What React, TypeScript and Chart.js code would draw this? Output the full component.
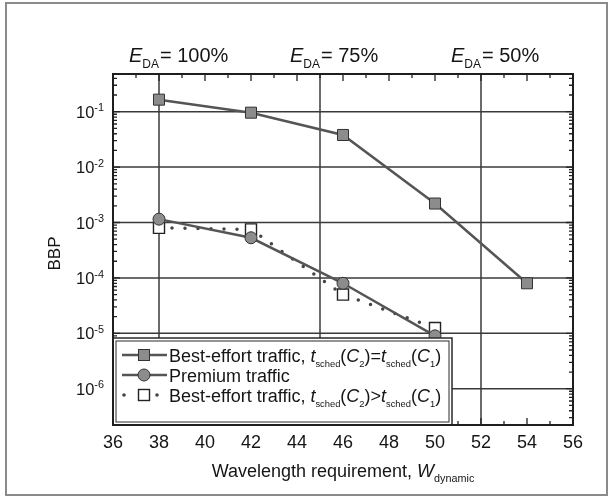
import React, { useEffect, useRef } from 'react';
import { Chart, registerables } from 'chart.js';

Chart.register(...registerables);

// ---- data ----
const bestEffortEqualX = [38, 42, 46, 50, 54];
const bestEffortEqualY = [0.165, 0.096, 0.038, 0.0022, 0.00008];
const premiumX = [38, 42, 46, 50];
const premiumY = [0.00115, 0.00053, 0.00008, 0.000009];
const bestEffortGreaterX = [38, 42, 46, 50];
const bestEffortGreaterY = [0.0008, 0.00075, 0.00005, 0.0000125];

const xTickLabels = [36, 38, 40, 42, 44, 46, 48, 50, 52, 54, 56];
const yTickExponents = [-1, -2, -3, -4, -5, -6];
const efficiencyX = [38, 45, 52];
const efficiencyLabels = ['100%', '75%', '50%'];
const xMin = 36;
const xMax = 56;
const yMinExp = -6.655;
const yMaxExp = -0.3195;

type Seg = { t: string; i?: boolean; sub?: boolean; sup?: boolean };

const legendLabels: Seg[][] = [
  [
    { t: 'Best-effort traffic, ' }, { t: 't', i: true }, { t: 'sched', sub: true }, { t: '(' },
    { t: 'C', i: true }, { t: '2', sub: true }, { t: ')=' }, { t: 't', i: true }, { t: 'sched', sub: true },
    { t: '(' }, { t: 'C', i: true }, { t: '1', sub: true }, { t: ')' },
  ],
  [{ t: 'Premium traffic' }],
  [
    { t: 'Best-effort traffic, ' }, { t: 't', i: true }, { t: 'sched', sub: true }, { t: '(' },
    { t: 'C', i: true }, { t: '2', sub: true }, { t: ')>' }, { t: 't', i: true }, { t: 'sched', sub: true },
    { t: '(' }, { t: 'C', i: true }, { t: '1', sub: true }, { t: ')' },
  ],
];
const xTitle: Seg[] = [{ t: 'Wavelength requirement, ' }, { t: 'W', i: true }, { t: 'dynamic', sub: true }];
const yTitle = 'BBP';

const FONT = '"Liberation Sans", Arial, Helvetica, sans-serif';
const INK = '#151515';

function segFont(s: Seg, size: number, ratio: number) {
  const sz = s.sub || s.sup ? size * ratio : size;
  return `${s.i ? 'italic ' : ''}${sz}px ${FONT}`;
}
function measureRich(ctx: CanvasRenderingContext2D, segs: Seg[], size: number, ratio: number) {
  let w = 0;
  for (const s of segs) {
    ctx.font = segFont(s, size, ratio);
    w += ctx.measureText(s.t).width;
  }
  return w;
}
function drawRich(
  ctx: CanvasRenderingContext2D, segs: Seg[], x: number, y: number, size: number,
  align: 'left' | 'center' | 'right', ratio = 0.55, subDrop = 0.32, supRise = 0.38,
) {
  const w = measureRich(ctx, segs, size, ratio);
  let cx = align === 'left' ? x : align === 'center' ? x - w / 2 : x - w;
  ctx.textBaseline = 'alphabetic';
  ctx.textAlign = 'left';
  for (const s of segs) {
    ctx.font = segFont(s, size, ratio);
    const dy = s.sub ? size * subDrop : s.sup ? -size * supRise : 0;
    ctx.fillText(s.t, cx, y + dy);
    cx += ctx.measureText(s.t).width;
  }
}

function drawMarker(ctx: CanvasRenderingContext2D, kind: number, x: number, y: number) {
  ctx.save();
  ctx.setLineDash([]);
  if (kind === 0) {
    ctx.fillStyle = '#8c8c8c';
    ctx.strokeStyle = '#333';
    ctx.lineWidth = 1;
    ctx.fillRect(x - 5.5, y - 5.5, 11, 11);
    ctx.strokeRect(x - 5.5, y - 5.5, 11, 11);
  } else if (kind === 1) {
    ctx.fillStyle = '#8c8c8c';
    ctx.strokeStyle = '#333';
    ctx.lineWidth = 1;
    ctx.beginPath();
    ctx.arc(x, y, 6, 0, Math.PI * 2);
    ctx.fill();
    ctx.stroke();
  } else {
    ctx.fillStyle = '#fff';
    ctx.strokeStyle = '#222';
    ctx.lineWidth = 1.4;
    ctx.fillRect(x - 5.5, y - 5.5, 11, 11);
    ctx.strokeRect(x - 5.5, y - 5.5, 11, 11);
  }
  ctx.restore();
}

const decorPlugin = {
  id: 'decor',
  beforeDraw(chart: any) {
    const ctx: CanvasRenderingContext2D = chart.ctx;
    ctx.save();
    ctx.fillStyle = '#fff';
    ctx.fillRect(0, 0, chart.width, chart.height);
    ctx.strokeStyle = '#8a8a8a';
    ctx.lineWidth = 2;
    ctx.strokeRect(6, 3, chart.width - 12, chart.height - 5);
    ctx.restore();
  },
  beforeDatasetsDraw(chart: any) {
    const ctx: CanvasRenderingContext2D = chart.ctx;
    const a = chart.chartArea;
    const { x, y } = chart.scales;
    ctx.save();
    ctx.strokeStyle = '#3a3a3a';
    ctx.lineWidth = 1.5;
    for (const e of yTickExponents) {
      const py = y.getPixelForValue(Math.pow(10, e));
      if (py < a.top || py > a.bottom) continue;
      ctx.beginPath();
      ctx.moveTo(a.left, py);
      ctx.lineTo(a.right, py);
      ctx.stroke();
    }
    for (const v of efficiencyX) {
      const px = x.getPixelForValue(v);
      ctx.beginPath();
      ctx.moveTo(px, a.top);
      ctx.lineTo(px, a.bottom);
      ctx.stroke();
    }
    ctx.restore();
  },
  afterDatasetsDraw(chart: any) {
    const ctx: CanvasRenderingContext2D = chart.ctx;
    const a = chart.chartArea;
    const { x, y } = chart.scales;
    ctx.save();
    ctx.strokeStyle = '#222';
    ctx.lineWidth = 1.3;
    // minor/major ticks on left & right
    for (let d = Math.floor(yMinExp); d <= Math.ceil(yMaxExp); d++) {
      for (let m = 1; m <= 9; m++) {
        const py = y.getPixelForValue(m * Math.pow(10, d));
        if (py < a.top || py > a.bottom) continue;
        const len = m === 1 ? 7 : 4;
        ctx.beginPath();
        ctx.moveTo(a.left, py);
        ctx.lineTo(a.left + len, py);
        ctx.moveTo(a.right, py);
        ctx.lineTo(a.right - len, py);
        ctx.stroke();
      }
    }
    for (let v = xMin; v <= xMax; v++) {
      const px = x.getPixelForValue(v);
      const len = v % 2 === 0 ? 7 : 4;
      ctx.beginPath();
      ctx.moveTo(px, a.top);
      ctx.lineTo(px, a.top + len);
      ctx.moveTo(px, a.bottom);
      ctx.lineTo(px, a.bottom - len);
      ctx.stroke();
    }
    // legend box
    const lx = a.left;
    const lt = a.bottom - 87;
    const lr = a.left + 339;
    ctx.fillStyle = '#fff';
    ctx.fillRect(lx, lt, lr - lx, a.bottom - lt);
    ctx.strokeStyle = '#2a2a2a';
    ctx.lineWidth = 1.5;
    ctx.strokeRect(lx, lt, lr - lx, a.bottom - lt);
    ctx.lineWidth = 1;
    ctx.strokeRect(lx + 3, lt + 3, lr - lx - 6, a.bottom - lt - 6);
    // plot border
    ctx.strokeStyle = '#1e1e1e';
    ctx.lineWidth = 2;
    ctx.strokeRect(a.left, a.top, a.right - a.left, a.bottom - a.top);

    // legend entries
    const rowYs = [a.bottom - 70, a.bottom - 50, a.bottom - 30];
    for (let r = 0; r < 3; r++) {
      const ry = rowYs[r];
      ctx.save();
      if (r < 2) {
        ctx.strokeStyle = '#555';
        ctx.lineWidth = 2.5;
        ctx.beginPath();
        ctx.moveTo(lx + 9, ry);
        ctx.lineTo(lx + 54, ry);
        ctx.stroke();
      } else {
        ctx.fillStyle = '#444';
        for (const dx of [11, 44]) {
          ctx.beginPath();
          ctx.arc(lx + dx, ry, 1.8, 0, Math.PI * 2);
          ctx.fill();
        }
      }
      ctx.restore();
      drawMarker(ctx, r, lx + 31, ry);
      ctx.fillStyle = INK;
      drawRich(ctx, legendLabels[r], lx + 56, ry + 6.5, 18, 'left', 0.52, 0.33);
    }

    // y tick labels
    ctx.fillStyle = INK;
    for (const e of yTickExponents) {
      const py = y.getPixelForValue(Math.pow(10, e));
      drawRich(ctx, [{ t: '10' }, { t: String(e), sup: true }], a.left - 9, py + 6, 16.5, 'right', 0.66, 0, 0.38);
    }
    // x tick labels
    ctx.font = `18px ${FONT}`;
    ctx.textAlign = 'center';
    ctx.textBaseline = 'middle';
    for (const v of xTickLabels) {
      ctx.fillText(String(v), x.getPixelForValue(v), a.bottom + 18);
    }
    // efficiency labels
    for (let k = 0; k < efficiencyX.length; k++) {
      const px = x.getPixelForValue(efficiencyX[k]);
      const base = a.top - 12;
      drawRich(ctx, [{ t: 'E', i: true }, { t: 'DA', sub: true }], px, base, 20, 'right', 0.6, 0.3);
      ctx.font = `20px ${FONT}`;
      ctx.textAlign = 'left';
      ctx.textBaseline = 'alphabetic';
      ctx.fillText('= ' + efficiencyLabels[k], px + 1, base);
    }
    // axis titles
    drawRich(ctx, xTitle, (a.left + a.right) / 2, a.bottom + 52, 18, 'center', 0.6, 0.3);
    ctx.save();
    ctx.translate(55, (a.top + a.bottom) / 2 + 4);
    ctx.rotate(-Math.PI / 2);
    ctx.font = `17px ${FONT}`;
    ctx.textAlign = 'center';
    ctx.textBaseline = 'middle';
    ctx.fillText(yTitle, 0, 0);
    ctx.restore();
    ctx.restore();
  },
};

function toPoints(xs: number[], ys: number[]) {
  return xs.map((v, i) => ({ x: v, y: ys[i] }));
}

export default function App() {
  const ref = useRef<HTMLCanvasElement | null>(null);
  useEffect(() => {
    if (!ref.current) return;
    const chart = new Chart(ref.current, {
      type: 'line',
      data: {
        datasets: [
          {
            label: 'Best-effort traffic, equal',
            data: toPoints(bestEffortEqualX, bestEffortEqualY),
            borderColor: '#555',
            borderWidth: 2.5,
            pointStyle: 'rect',
            pointRadius: 7.8,
            pointBackgroundColor: '#8c8c8c',
            pointBorderColor: '#333',
            pointBorderWidth: 1,
          },
          {
            label: 'Premium traffic',
            data: toPoints(premiumX, premiumY),
            borderColor: '#555',
            borderWidth: 2.5,
            pointStyle: 'circle',
            pointRadius: 6,
            pointBackgroundColor: '#8c8c8c',
            pointBorderColor: '#333',
            pointBorderWidth: 1,
          },
          {
            label: 'Best-effort traffic, greater',
            data: toPoints(bestEffortGreaterX, bestEffortGreaterY),
            borderColor: '#444',
            borderWidth: 3.5,
            borderDash: [0, 13],
            borderCapStyle: 'round',
            pointStyle: 'rect',
            pointRadius: 7.8,
            pointBackgroundColor: '#fff',
            pointBorderColor: '#222',
            pointBorderWidth: 1.4,
          },
        ],
      } as any,
      options: {
        animation: false,
        responsive: false,
        devicePixelRatio: 1,
        layout: { padding: { left: 113, right: 40, top: 74, bottom: 72 } },
        elements: { line: { tension: 0 } },
        scales: {
          x: { type: 'linear', min: xMin, max: xMax, display: false },
          y: { type: 'logarithmic', min: Math.pow(10, yMinExp), max: Math.pow(10, yMaxExp), display: false },
        },
        plugins: { legend: { display: false }, tooltip: { enabled: false } },
      } as any,
      plugins: [decorPlugin as any],
    });
    return () => chart.destroy();
  }, []);
  return (
    <div style={{ position: 'absolute', left: 0, top: 0, width: 613, height: 497 }}>
      <canvas ref={ref} width={613} height={497} style={{ display: 'block' }} />
    </div>
  );
}
